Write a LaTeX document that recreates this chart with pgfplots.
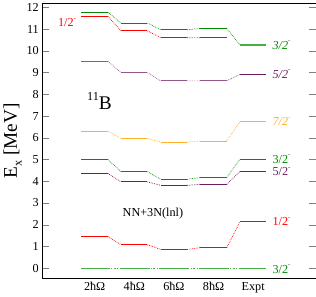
\documentclass[border=0pt]{standalone}
\usepackage{fontspec}
\setmainfont{Liberation Serif}
\usepackage{pgfplots}
\pgfplotsset{compat=1.18}
\definecolor{cgreen}{RGB}{0,140,0}
\definecolor{lgreen}{RGB}{70,175,70}
\definecolor{cred}{RGB}{255,0,0}
\definecolor{cpurple}{RGB}{110,30,95}
\definecolor{corange}{RGB}{255,176,40}
\newcommand{\sm}{\raisebox{0.55em}{\fontsize{7}{8}\selectfont -}}
\begin{document}
\begin{tikzpicture}[font=\fontsize{12}{14}\selectfont]
\begin{axis}[
  scale only axis,
  width=269pt, height=271pt,
  xmin=-0.32, xmax=6.58,
  ymin=-0.48, ymax=12.2,
  ytick={0,1,...,12},
  xtick={1,2,3,4,5},
  xticklabels={2ħΩ,4ħΩ,6ħΩ,8ħΩ,Expt},
  /pgf/number format/assume math mode=true,
  tick label style={font=\fontsize{12}{14}\selectfont},
  major x tick style={draw=none},
  tick align=inside,
  major tick length=7pt,
  ylabel={E\raisebox{-0.25em}{\fontsize{12}{14}\selectfont x} [MeV]},
  ylabel style={font=\fontsize{19}{22}\selectfont, yshift=-2pt},
  unbounded coords=jump,
  clip=false,
]
% green 3/2 upper
\addplot[cgreen, line width=0.8pt] coordinates {(0.667,11.78)(1.333,11.78) (nan,nan) (1.667,11.28)(2.333,11.28) (nan,nan) (2.667,10.97)(3.333,10.97) (nan,nan) (3.667,11.03)(4.333,11.03)};
\addplot[lgreen, line width=1.3pt] coordinates {(4.667,10.27)(5.333,10.27)};
\addplot[cgreen, densely dotted, line width=0.7pt] coordinates {(1.333,11.78)(1.667,11.28) (nan,nan) (2.333,11.28)(2.667,10.97) (nan,nan) (3.333,10.97)(3.667,11.03) (nan,nan) (4.333,11.03)(4.667,10.27)};
% red 1/2 upper
\addplot[cred, line width=0.8pt] coordinates {(0.667,11.59)(1.333,11.59) (nan,nan) (1.667,10.92)(2.333,10.92) (nan,nan) (2.667,10.60)(3.333,10.60) (nan,nan) (3.667,10.60)(4.333,10.60)};
\addplot[cred, densely dotted, line width=0.7pt] coordinates {(1.333,11.59)(1.667,10.92) (nan,nan) (2.333,10.92)(2.667,10.60) (nan,nan) (3.333,10.60)(3.667,10.60)};
% purple 5/2 upper
\addplot[cpurple!75, line width=1pt] coordinates {(0.667,9.52)(1.333,9.52) (nan,nan) (1.667,9.00)(2.333,9.00) (nan,nan) (2.667,8.62)(3.333,8.62) (nan,nan) (3.667,8.62)(4.333,8.62)};
\addplot[cpurple, line width=0.8pt] coordinates {(4.667,8.92)(5.333,8.92)};
\addplot[cpurple!75, densely dotted, line width=0.7pt] coordinates {(1.333,9.52)(1.667,9.00) (nan,nan) (2.333,9.00)(2.667,8.62) (nan,nan) (3.333,8.62)(3.667,8.62) (nan,nan) (4.333,8.62)(4.667,8.92)};
% orange 7/2
\addplot[corange, line width=1pt] coordinates {(0.667,6.31)(1.333,6.31) (nan,nan) (1.667,5.97)(2.333,5.97) (nan,nan) (2.667,5.80)(3.333,5.80) (nan,nan) (3.667,5.85)(4.333,5.85) (nan,nan) (4.667,6.74)(5.333,6.74)};
\addplot[corange, densely dotted, line width=0.7pt] coordinates {(1.333,6.31)(1.667,5.97) (nan,nan) (2.333,5.97)(2.667,5.80) (nan,nan) (3.333,5.80)(3.667,5.85) (nan,nan) (4.333,5.85)(4.667,6.74)};
% green 3/2 lower
\addplot[cgreen, line width=0.8pt] coordinates {(0.667,5.00)(1.333,5.00) (nan,nan) (1.667,4.44)(2.333,4.44) (nan,nan) (2.667,4.09)(3.333,4.09) (nan,nan) (3.667,4.17)(4.333,4.17) (nan,nan) (4.667,5.02)(5.333,5.02)};
\addplot[cgreen, densely dotted, line width=0.7pt] coordinates {(1.333,5.00)(1.667,4.44) (nan,nan) (2.333,4.44)(2.667,4.09) (nan,nan) (3.333,4.09)(3.667,4.17) (nan,nan) (4.333,4.17)(4.667,5.02)};
% purple 5/2 lower
\addplot[cpurple, line width=0.8pt] coordinates {(0.667,4.36)(1.333,4.36) (nan,nan) (1.667,3.97)(2.333,3.97) (nan,nan) (2.667,3.81)(3.333,3.81) (nan,nan) (3.667,3.86)(4.333,3.86) (nan,nan) (4.667,4.45)(5.333,4.45)};
\addplot[cpurple, densely dotted, line width=0.7pt] coordinates {(1.333,4.36)(1.667,3.97) (nan,nan) (2.333,3.97)(2.667,3.81) (nan,nan) (3.333,3.81)(3.667,3.86) (nan,nan) (4.333,3.86)(4.667,4.45)};
% red 1/2 lower
\addplot[cred, line width=0.8pt] coordinates {(0.667,1.45)(1.333,1.45) (nan,nan) (1.667,1.08)(2.333,1.08) (nan,nan) (2.667,0.86)(3.333,0.86) (nan,nan) (3.667,0.94)(4.333,0.94) (nan,nan) (4.667,2.14)(5.333,2.14)};
\addplot[cred, densely dotted, line width=0.7pt] coordinates {(1.333,1.45)(1.667,1.08) (nan,nan) (2.333,1.08)(2.667,0.86) (nan,nan) (3.333,0.86)(3.667,0.94) (nan,nan) (4.333,0.94)(4.667,2.14)};
% green ground state
\addplot[lgreen, line width=0.8pt] coordinates {(0.667,0)(1.333,0) (nan,nan) (1.667,0)(2.333,0) (nan,nan) (2.667,0)(3.333,0) (nan,nan) (3.667,0)(4.333,0) (nan,nan) (4.667,0)(5.333,0)};
\addplot[lgreen, dash pattern=on 2pt off 1.5pt on 0.8pt off 1.5pt, line width=0.8pt] coordinates {(1.333,0)(1.667,0) (nan,nan) (2.333,0)(2.667,0) (nan,nan) (3.333,0)(3.667,0) (nan,nan) (4.333,0)(4.667,0)};
% labels
\node[anchor=west, text=cgreen] at (axis cs:5.40,10.27) {\textit{3/2}\sm};
\node[anchor=west, text=cpurple] at (axis cs:5.40,8.92) {\textit{5/2}\sm};
\node[anchor=west, text=corange] at (axis cs:5.40,6.74) {\textit{7/2}\sm};
\node[anchor=west, text=cgreen] at (axis cs:5.40,5.02) {3/2\sm};
\node[anchor=west, text=cpurple] at (axis cs:5.40,4.45) {5/2\sm};
\node[anchor=west, text=cred] at (axis cs:5.40,2.14) {1/2\sm};
\node[anchor=west, text=cgreen] at (axis cs:5.40,-0.05) {3/2\sm};
\node[anchor=east, text=cred] at (axis cs:0.62,11.3) {1/2\sm};
\node at (axis cs:1.12,7.7) {\fontsize{19}{22}\selectfont\raisebox{0.45em}{\fontsize{12}{14}\selectfont 11}B};
\node at (axis cs:2.47,2.5) {NN+3N(lnl)};
\end{axis}
\end{tikzpicture}
\end{document}
